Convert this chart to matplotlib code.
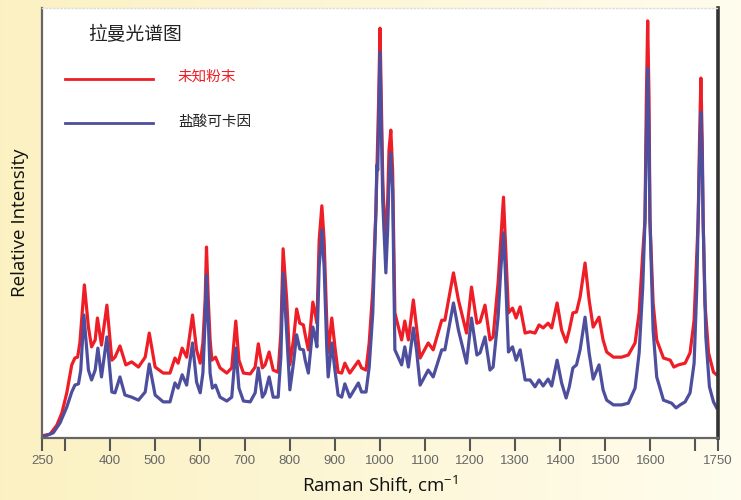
import matplotlib
matplotlib.use("Agg")
import matplotlib.pyplot as plt
import numpy as np

plt.rcParams['font.family'] = ['Noto Sans CJK SC', 'DejaVu Sans']
plt.rcParams['mathtext.default'] = 'regular'

# Raman shift (cm-1)
shift_red = [250, 268, 283, 294, 305, 316, 323, 329, 334, 344, 353, 360, 368, 373, 382, 394,
             405, 412, 423, 436, 449, 464, 479, 488, 501, 519, 534, 545, 552, 561, 571, 584,
             593, 601, 607, 612, 615, 619, 623, 627, 635, 645, 660, 671, 680, 687, 697, 712,
             723, 730, 739, 745, 754, 763, 774, 780, 785, 793, 800, 808, 815, 822, 830, 834,
             841, 851, 856, 860, 865, 871, 876, 882, 885, 893, 900, 907, 915, 922, 933, 944,
             952, 959, 969, 976, 984, 991, 997, 1000, 1003, 1006, 1011, 1017, 1020, 1024, 1028,
             1031, 1033, 1048, 1055, 1063, 1074, 1081, 1089, 1107, 1118, 1137, 1144, 1163, 1174,
             1192, 1203, 1215, 1222, 1233, 1244, 1251, 1262, 1268, 1274, 1278, 1285, 1294, 1302,
             1311, 1322, 1333, 1344, 1353, 1362, 1373, 1381, 1393, 1403, 1413, 1420, 1428, 1436,
             1444, 1455, 1464, 1473, 1486, 1495, 1503, 1518, 1536, 1551, 1566, 1575, 1583, 1588,
             1591, 1594, 1597, 1599, 1606, 1614, 1629, 1644, 1652, 1662, 1677, 1688, 1697, 1703,
             1706, 1709, 1712, 1715, 1717, 1721, 1729, 1740, 1747]
powder = [0.5, 0.9, 3.0, 5.8, 10.5, 17.0, 18.6, 18.8, 22.1, 35.6, 25.8, 21.2, 22.8, 27.9, 21.6, 30.9,
          18.1, 18.8, 21.4, 17.0, 17.7, 16.5, 18.8, 24.4, 16.5, 15.1, 15.1, 18.6, 17.4, 20.9, 18.8, 28.6,
          20.5, 17.4, 22.1, 32.1, 44.4, 32.1, 22.8, 18.1, 18.8, 16.3, 15.1, 16.3, 27.2, 18.1, 15.1, 14.9,
          16.5, 21.9, 16.3, 17.0, 20.0, 15.8, 15.3, 24.4, 44.0, 32.1, 17.0, 22.8, 30.0, 26.7, 26.3, 24.0,
          20.5, 31.6, 29.1, 26.7, 46.0, 54.0, 46.0, 26.7, 19.8, 27.9, 21.2, 15.3, 15.1, 17.4, 15.1, 16.7,
          17.9, 16.3, 15.8, 22.1, 34.4, 53.0, 78.6, 95.3, 78.6, 60.7, 45.3, 55.3, 67.0, 71.6, 62.3,
          41.4, 29.1, 22.8, 27.2, 22.8, 32.1, 25.8, 18.6, 22.1, 20.5, 27.4, 27.4, 38.4, 32.1,
          24.4, 35.1, 26.7, 27.0, 30.9, 22.8, 23.5, 36.0, 46.0, 56.0, 46.0, 29.1, 30.2, 27.9,
          30.5, 24.4, 24.7, 24.4, 26.3, 25.6, 26.7, 25.6, 31.4, 25.1, 22.3, 25.1, 29.1, 29.3,
          32.8, 40.7, 32.1, 25.8, 28.1, 22.8, 20.0, 18.8, 18.8, 19.3, 22.1, 29.1, 43.0, 50.7,
          78.6, 97.0, 78.6, 50.7, 31.4, 22.8, 18.6, 18.1, 16.5, 17.0, 17.4, 19.8, 27.4, 43.0,
          50.7, 69.3, 83.7, 69.3, 50.7, 31.4, 19.8, 15.3, 14.7]

shift_blue = [250, 275, 290, 305, 316, 323, 331, 336, 343, 353, 360, 368, 374, 382, 394, 405,
              412, 423, 434, 449, 464, 479, 488, 501, 519, 534, 545, 552, 561, 571, 584, 593,
              601, 607, 612, 615, 619, 623, 628, 635, 645, 660, 671, 680, 687, 697, 712, 723,
              730, 739, 745, 754, 763, 774, 780, 785, 793, 800, 808, 815, 822, 830, 834, 841,
              851, 856, 860, 865, 871, 876, 882, 885, 893, 900, 907, 915, 922, 933, 944, 952,
              959, 969, 976, 984, 991, 993, 995, 998, 1000, 1002, 1006, 1013, 1017, 1020, 1024,
              1028, 1031, 1033, 1048, 1055, 1063, 1074, 1081, 1089, 1107, 1118, 1137, 1144, 1163,
              1174, 1192, 1203, 1215, 1222, 1233, 1244, 1251, 1262, 1268, 1274, 1278, 1285, 1294,
              1302, 1311, 1322, 1333, 1344, 1353, 1362, 1373, 1381, 1393, 1403, 1413, 1420, 1428,
              1436, 1444, 1455, 1464, 1473, 1486, 1495, 1503, 1518, 1536, 1551, 1566, 1575, 1583,
              1588, 1591, 1594, 1597, 1599, 1606, 1614, 1629, 1639, 1647, 1657, 1666, 1677, 1688,
              1697, 1703, 1706, 1709, 1712, 1715, 1717, 1723, 1731, 1740, 1747]
cocaine = [0.2, 1.2, 3.5, 7.2, 10.7, 12.3, 12.6, 15.8, 28.6, 15.8, 13.5, 15.8, 20.9, 14.2, 23.5, 10.7,
           10.5, 14.2, 10.0, 9.5, 8.8, 10.7, 17.2, 10.0, 8.4, 8.4, 12.8, 11.6, 14.7, 12.3, 22.1, 13.0,
           10.5, 15.1, 27.4, 37.9, 27.4, 15.1, 11.6, 12.3, 9.5, 8.6, 9.5, 20.9, 11.6, 8.6, 8.4, 10.5,
           16.3, 9.5, 10.5, 14.2, 9.5, 9.5, 18.8, 38.4, 24.4, 11.2, 17.4, 24.0, 20.7, 20.5, 18.1, 15.1,
           25.8, 23.5, 21.2, 39.8, 48.4, 39.8, 20.5, 14.2, 22.1, 15.8, 10.0, 9.5, 12.6, 9.5, 11.4, 12.8,
           10.7, 10.7, 16.5, 29.1, 53.0, 63.5, 62.3, 78.6, 89.8, 78.6, 55.3, 38.4, 48.4, 60.0, 66.3,
           57.7, 34.4, 20.5, 17.0, 21.2, 16.5, 25.6, 20.5, 12.3, 15.8, 14.2, 20.5, 20.5, 31.4,
           25.1, 17.4, 27.9, 19.3, 19.8, 23.5, 15.8, 16.5, 28.1, 39.1, 47.7, 39.1, 20.0, 21.2,
           18.1, 20.5, 13.5, 13.5, 11.9, 13.5, 12.1, 13.7, 12.1, 18.1, 12.8, 9.3, 11.9, 16.3,
           17.0, 20.5, 28.1, 19.8, 13.7, 17.0, 11.2, 8.8, 7.7, 7.7, 8.1, 11.6, 19.8, 35.1,
           50.7, 69.3, 86.0, 69.3, 50.7, 25.1, 14.2, 8.8, 8.4, 8.1, 7.0, 7.7, 8.4, 10.5,
           17.4, 35.1, 50.7, 64.7, 75.8, 64.7, 50.7, 23.5, 11.9, 8.4, 7.0]

ticks = [250, 300, 400, 500, 600, 700, 800, 900, 1000, 1100, 1200, 1300, 1400, 1500, 1600, 1700, 1750]
tick_labels = ['250', '', '400', '500', '600', '700', '800', '900', '1000', '1100', '1200',
               '1300', '1400', '1500', '1600', '', '1750']

red = '#ee1d26'
blue = '#4d4f9e'

fig = plt.figure(figsize=(7.41, 5.0), dpi=100)

# pale yellow backdrop, stronger on the left
bg = fig.add_axes([0, 0, 1, 1])
grad = np.linspace(0, 1, 256)
c0 = np.array([0.985, 0.945, 0.76])
c1 = np.array([1.0, 0.99, 0.93])
img = c0[None, :] + (c1 - c0)[None, :] * grad[:, None]
bg.imshow(img[None, :, :], aspect='auto', extent=[0, 1, 0, 1])
bg.set_axis_off()

ax = fig.add_axes([42 / 741, 62 / 500, 676 / 741, 430 / 500])
ax.set_facecolor('white')
ax.plot(shift_red, powder, color=red, lw=2.3, solid_joinstyle='round')
ax.plot(shift_blue, cocaine, color=blue, lw=2.3, solid_joinstyle='round')

ax.set_xlim(250, 1750)
ax.set_ylim(0, 100)
ax.set_xticks(ticks)
ax.set_xticklabels(tick_labels, family='Liberation Sans', fontsize=9.5, color='#666666')
ax.set_yticks([])
ax.tick_params(axis='x', direction='out', length=9, width=1.5, color='#555555', pad=3)

for s in ['left', 'bottom']:
    ax.spines[s].set_color('#666666')
    ax.spines[s].set_linewidth(1.6)
ax.spines['right'].set_color('#333333')
ax.spines['right'].set_linewidth(2.6)
ax.spines['top'].set_color('#dddddd')
ax.spines['top'].set_linestyle(':')
ax.spines['top'].set_linewidth(1)

ax.set_xlabel('Raman Shift, cm$^{-1}$', family='Open Sans', fontsize=13.5, color='#111111', labelpad=5)
ax.set_ylabel('Relative Intensity', family='Open Sans', fontsize=13.5, color='#111111', labelpad=9)

# title and hand-made legend
ax.text(0.068, 0.937, '拉曼光谱图', transform=ax.transAxes, fontsize=13.5, color='#222222', va='center')
ax.plot([0.034, 0.164], [0.835, 0.835], transform=ax.transAxes, color=red, lw=2)
ax.text(0.201, 0.84, '未知粉末', transform=ax.transAxes, fontsize=10.5, color=red, va='center')
ax.plot([0.034, 0.164], [0.733, 0.733], transform=ax.transAxes, color=blue, lw=2)
ax.text(0.201, 0.735, '盐酸可卡因', transform=ax.transAxes, fontsize=10.5, color='#222222', va='center')

fig.savefig('out.png', dpi=100)
